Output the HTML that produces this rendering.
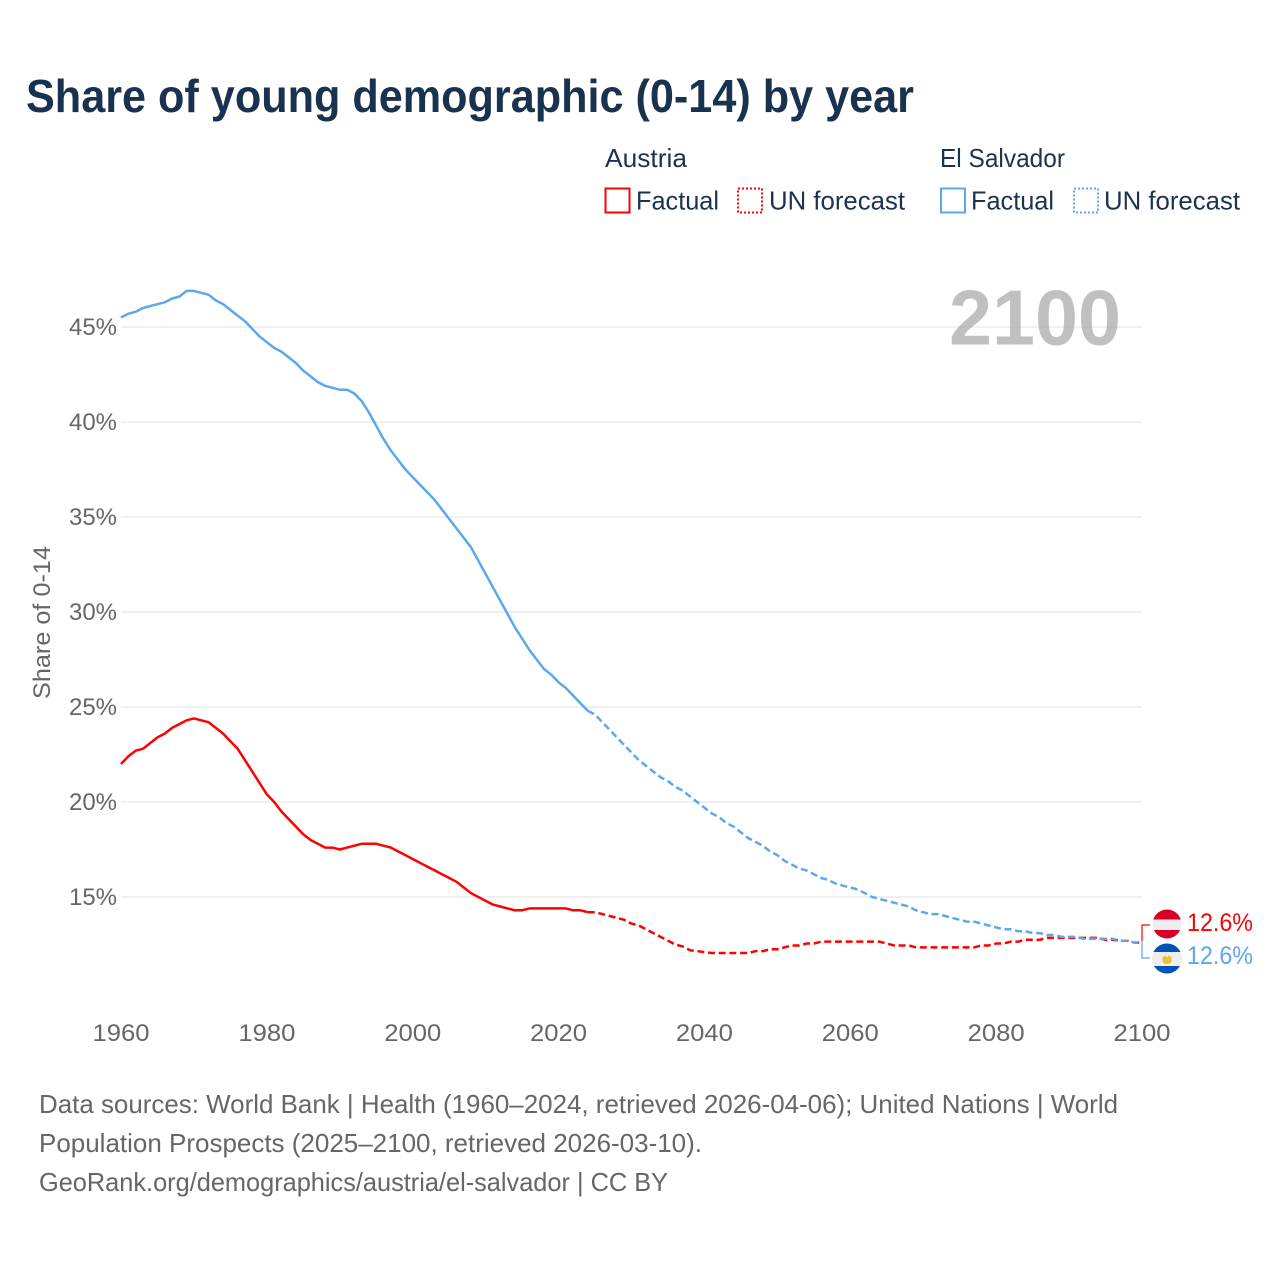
<!DOCTYPE html>
<html lang="en">
<head>
<meta charset="utf-8">
<title>Share of young demographic (0-14) by year</title>
<style>
html,body{margin:0;padding:0;background:#fff;width:1280px;height:1280px;overflow:hidden}
svg{display:block;font-family:"Liberation Sans",sans-serif}
</style>
</head>
<body>
<svg id="chart" xmlns="http://www.w3.org/2000/svg" width="1280" height="1280" viewBox="0 0 1280 1280">
  <rect x="0" y="0" width="1280" height="1280" fill="#fff"/>
  <text x="26" y="112" font-size="46" font-weight="700" fill="#18324f" textLength="888" lengthAdjust="spacingAndGlyphs">Share of young demographic (0-14) by year</text>

  <g font-size="26" fill="#1d3251">
    <text x="605" y="167" textLength="82" lengthAdjust="spacingAndGlyphs">Austria</text>
    <rect x="605.5" y="188.5" width="24" height="24" fill="#fff" stroke="#ff0000" stroke-width="2"/>
    <text x="636" y="209.5" textLength="83" lengthAdjust="spacingAndGlyphs">Factual</text>
    <rect x="738" y="188.5" width="24" height="24" fill="#fff" stroke="#ff0000" stroke-width="2" stroke-dasharray="2 2"/>
    <text x="769" y="209.5" textLength="136" lengthAdjust="spacingAndGlyphs">UN forecast</text>
    <text x="940" y="167" textLength="125" lengthAdjust="spacingAndGlyphs">El Salvador</text>
    <rect x="941" y="188.5" width="24" height="24" fill="#fff" stroke="#5ba8ee" stroke-width="2"/>
    <text x="971" y="209.5" textLength="83" lengthAdjust="spacingAndGlyphs">Factual</text>
    <rect x="1074" y="188.5" width="24" height="24" fill="#fff" stroke="#5ba8ee" stroke-width="2" stroke-dasharray="2 2"/>
    <text x="1104" y="209.5" textLength="136" lengthAdjust="spacingAndGlyphs">UN forecast</text>
  </g>

  <g id="grid"></g>
  <text x="949" y="344.5" font-size="78" font-weight="700" fill="#a8a8a8" fill-opacity="0.72" textLength="172" lengthAdjust="spacingAndGlyphs">2100</text>
  <g id="ylabels" font-size="24" fill="#666"></g>
  <g id="xlabels" font-size="24" fill="#666"></g>
  <text transform="translate(50,622.5) rotate(-90)" text-anchor="middle" font-size="24" fill="#666" textLength="153" lengthAdjust="spacingAndGlyphs">Share of 0-14</text>
  <g id="series"></g>

  <path d="M1142 941V925H1150" fill="none" stroke="#ff0000" stroke-width="1.2"/>
  <path d="M1142 941V958H1150" fill="none" stroke="#5ba8ee" stroke-width="1.2"/>

  <defs>
    <clipPath id="clip-a"><circle cx="1167" cy="924" r="14.5"/></clipPath>
    <clipPath id="clip-e"><circle cx="1167" cy="958.5" r="15"/></clipPath>
  </defs>
  <g clip-path="url(#clip-a)">
    <rect x="1152" y="909" width="30" height="30" fill="#eeeeee"/>
    <rect x="1152" y="909" width="30" height="10.5" fill="#d80027"/>
    <rect x="1152" y="930" width="30" height="9" fill="#d80027"/>
  </g>
  <g clip-path="url(#clip-e)">
    <rect x="1152" y="943" width="30" height="31" fill="#eeeeee"/>
    <rect x="1152" y="943" width="30" height="9" fill="#0052b4"/>
    <rect x="1152" y="966" width="30" height="9" fill="#0052b4"/>
    <path d="M1162.5 955.5l1.5 2 1-2.5 2 2.5 2-2.5 1 2.5 1.5-2v5.5a4.5 3 0 0 1-9 0z" fill="#f0c030"/>
  </g>
  <text x="1187" y="931" font-size="25" fill="#ff0000" textLength="66" lengthAdjust="spacingAndGlyphs">12.6%</text>
  <text x="1187" y="964" font-size="25" fill="#5ba8ee" textLength="66" lengthAdjust="spacingAndGlyphs">12.6%</text>

  <g font-size="26" fill="#666">
    <text x="39" y="1113" textLength="1079" lengthAdjust="spacingAndGlyphs">Data sources: World Bank | Health (1960–2024, retrieved 2026-04-06); United Nations | World</text>
    <text x="39" y="1152" textLength="663" lengthAdjust="spacingAndGlyphs">Population Prospects (2025–2100, retrieved 2026-03-10).</text>
    <text x="39" y="1191" textLength="629" lengthAdjust="spacingAndGlyphs">GeoRank.org/demographics/austria/el-salvador | CC BY</text>
  </g>
</svg>
<script>
const xTicks = [1960, 1980, 2000, 2020, 2040, 2060, 2080, 2100];
const yTicks = [15, 20, 25, 30, 35, 40, 45];
const factualStartYear = 1960;
const forecastStartYear = 2024;
const austriaFactual = [22.0,22.4,22.7,22.8,23.1,23.4,23.6,23.9,24.1,24.3,24.4,24.3,24.2,23.9,23.6,23.2,22.8,22.2,21.6,21.0,20.4,20.0,19.5,19.1,18.7,18.3,18.0,17.8,17.6,17.6,17.5,17.6,17.7,17.8,17.8,17.8,17.7,17.6,17.4,17.2,17.0,16.8,16.6,16.4,16.2,16.0,15.8,15.5,15.2,15.0,14.8,14.6,14.5,14.4,14.3,14.3,14.4,14.4,14.4,14.4,14.4,14.4,14.3,14.3,14.2];
const austriaForecast = [14.2,14.2,14.1,14.0,13.9,13.8,13.6,13.5,13.3,13.1,12.9,12.7,12.5,12.4,12.2,12.15,12.1,12.05,12.05,12.05,12.05,12.05,12.05,12.15,12.15,12.25,12.25,12.35,12.45,12.45,12.55,12.55,12.65,12.65,12.65,12.65,12.65,12.65,12.65,12.65,12.65,12.55,12.45,12.45,12.45,12.35,12.35,12.35,12.35,12.35,12.35,12.35,12.35,12.35,12.45,12.45,12.55,12.55,12.65,12.65,12.75,12.75,12.75,12.85,12.85,12.85,12.85,12.85,12.85,12.85,12.85,12.75,12.75,12.7,12.7,12.6,12.6];
const elSalvadorFactual = [45.5,45.7,45.8,46.0,46.1,46.2,46.3,46.5,46.6,46.9,46.9,46.8,46.7,46.4,46.2,45.9,45.6,45.3,44.9,44.5,44.2,43.9,43.7,43.4,43.1,42.7,42.4,42.1,41.9,41.8,41.7,41.7,41.5,41.1,40.5,39.8,39.1,38.5,38.0,37.5,37.1,36.7,36.3,35.9,35.4,34.9,34.4,33.9,33.4,32.7,32.0,31.3,30.6,29.9,29.2,28.6,28.0,27.5,27.0,26.7,26.3,26.0,25.6,25.2,24.8];
const elSalvadorForecast = [24.8,24.6,24.2,23.8,23.4,23.0,22.6,22.2,21.9,21.6,21.3,21.1,20.8,20.6,20.3,20.0,19.7,19.4,19.2,18.9,18.7,18.4,18.1,17.9,17.7,17.4,17.2,16.9,16.7,16.5,16.4,16.2,16.0,15.9,15.7,15.6,15.5,15.4,15.2,15.0,14.9,14.8,14.7,14.6,14.5,14.3,14.2,14.1,14.1,14.0,13.9,13.8,13.7,13.7,13.6,13.5,13.4,13.3,13.3,13.2,13.2,13.1,13.1,13.0,13.0,12.9,12.9,12.9,12.8,12.8,12.8,12.8,12.8,12.7,12.7,12.6,12.6];

const NS = 'http://www.w3.org/2000/svg';
function xScale(year) { return 121 + (year - 1960) * (1142 - 121) / 140; }
function yScale(v) { return 897 - (v - 15) * 19; }

const grid = document.getElementById('grid');
const ylabels = document.getElementById('ylabels');
const xlabels = document.getElementById('xlabels');
const series = document.getElementById('series');

yTicks.forEach(function (t) {
  const line = document.createElementNS(NS, 'line');
  
  
  line.setAttribute('x1', 121);
  line.setAttribute('x2', 1142);
  line.setAttribute('y1', yScale(t));
  line.setAttribute('y2', yScale(t));
  line.setAttribute('stroke', '#ebebeb');
  line.setAttribute('stroke-width', '1.4');
  grid.appendChild(line);

  const label = document.createElementNS(NS, 'text');
  
  
  label.setAttribute('x', 69);
  label.setAttribute('y', yScale(t) + 8);
  label.setAttribute('textLength', '48');
  label.setAttribute('lengthAdjust', 'spacingAndGlyphs');
  label.textContent = t + '%';
  ylabels.appendChild(label);
});

xTicks.forEach(function (t) {
  const label = document.createElementNS(NS, 'text');
  
  
  label.setAttribute('x', xScale(t) - 28.5);
  label.setAttribute('y', 1041);
  label.setAttribute('textLength', '57');
  label.setAttribute('lengthAdjust', 'spacingAndGlyphs');
  label.textContent = t;
  xlabels.appendChild(label);
});

function drawLine(values, startYear, color, dashed, name) {
  const pts = values.map(function (v, i) {
    return xScale(startYear + i).toFixed(2) + ',' + yScale(v).toFixed(2);
  }).join(' ');
  const line = document.createElementNS(NS, 'polyline');
  
  
  line.setAttribute('points', pts);
  line.setAttribute('fill', 'none');
  line.setAttribute('stroke', color);
  line.setAttribute('stroke-width', '2.5');
  line.setAttribute('stroke-linejoin', 'round');
  if (dashed) line.setAttribute('stroke-dasharray', '7 3.7');
  series.appendChild(line);
}

drawLine(austriaFactual, factualStartYear, '#ff0000', false, 'line-austria-factual');
drawLine(austriaForecast, forecastStartYear, '#ff0000', true, 'line-austria-forecast');
drawLine(elSalvadorFactual, factualStartYear, '#5ba8ee', false, 'line-el-salvador-factual');
drawLine(elSalvadorForecast, forecastStartYear, '#5ba8ee', true, 'line-el-salvador-forecast');
</script>
</body>
</html>
